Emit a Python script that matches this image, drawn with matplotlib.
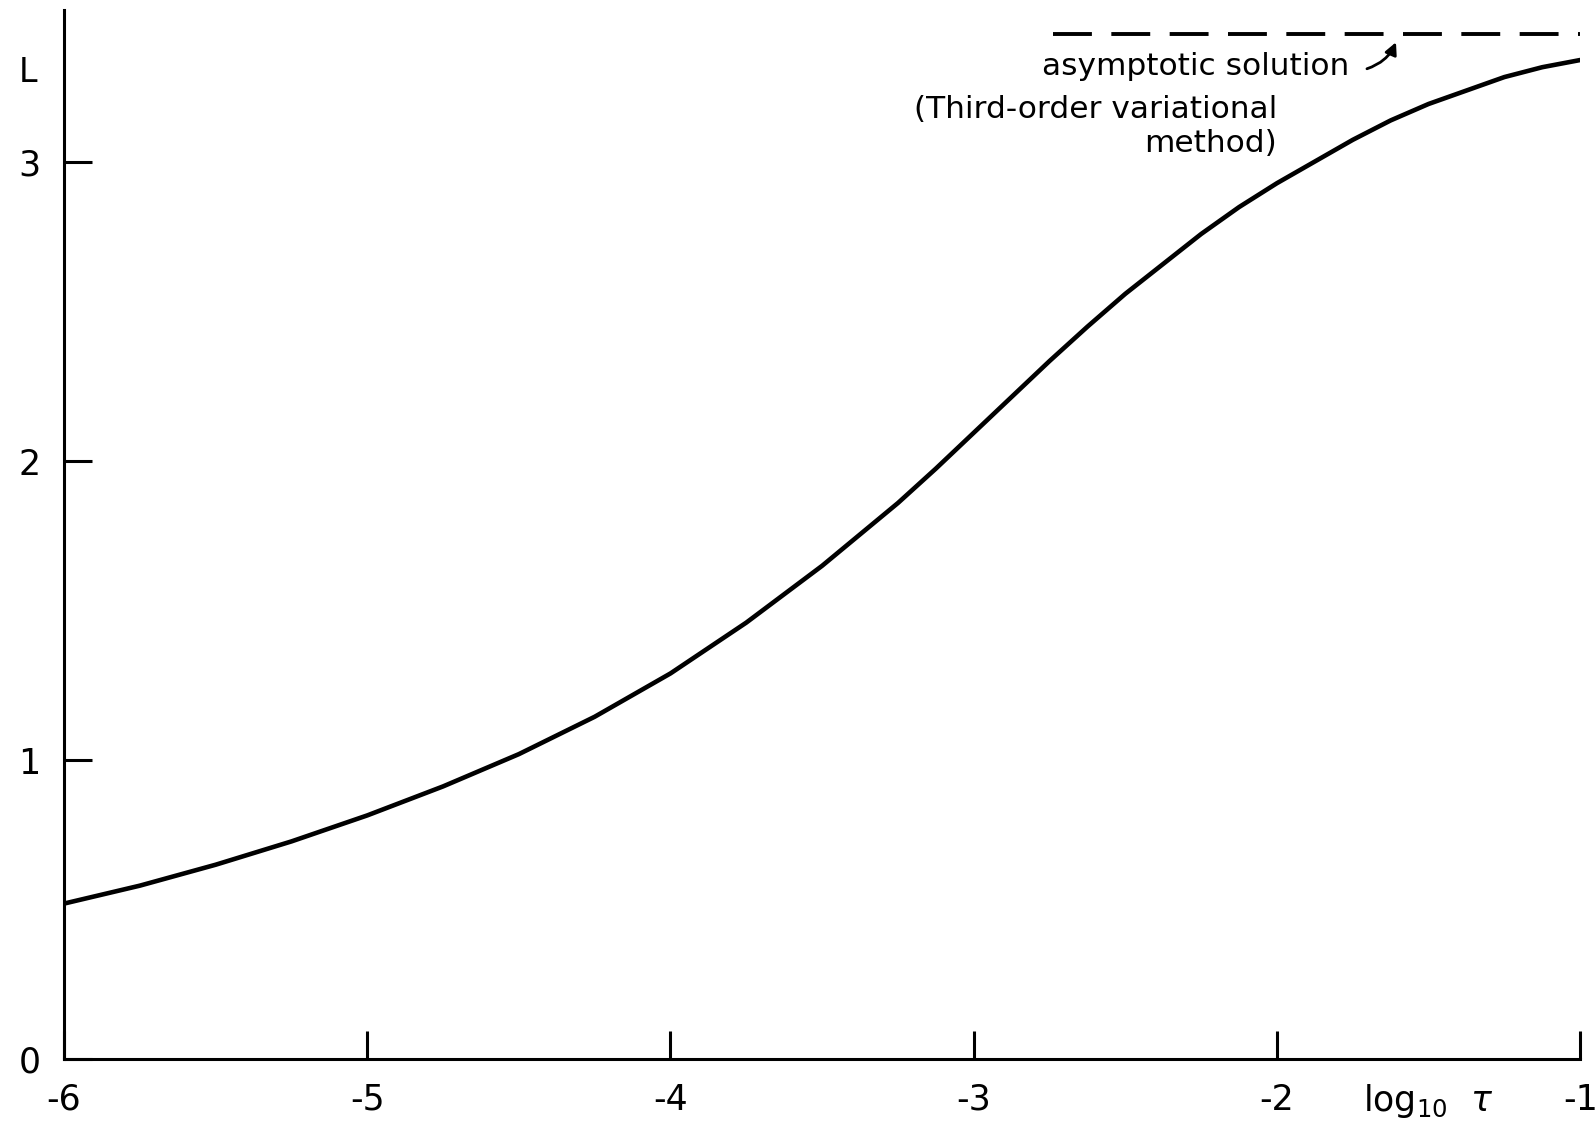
import numpy as np
import matplotlib
import matplotlib.pyplot as plt

# values
log_tau = [-6.0, -5.75, -5.5, -5.25, -5.0, -4.75, -4.5, -4.25, -4.0, -3.75,
           -3.5, -3.25, -3.125, -3.0, -2.75, -2.625, -2.5, -2.25, -2.125, -2.0,
           -1.75, -1.625, -1.5, -1.25, -1.125, -1.0]
L_vals = [0.52, 0.58, 0.65, 0.728, 0.815, 0.912, 1.02, 1.145, 1.29, 1.46,
          1.65, 1.86, 1.975, 2.095, 2.335, 2.45, 2.56, 2.76, 2.85, 2.93,
          3.075, 3.14, 3.195, 3.285, 3.318, 3.342]

asym_L = 3.43
asym_x = [-2.74, -1.0]

xticks = [-6, -5, -4, -3, -2, -1]
xticklabels = ["-6", "-5", "-4", "-3", "-2", "-1"]
yticks = [0, 1, 2, 3]
yticklabels = ["0", "1", "2", "3"]

plt.rcParams['font.family'] = ['DejaVu Sans']

fig = plt.figure(figsize=(15.96, 11.27), dpi=100)
ax = fig.add_axes([0.0401, 0.0603, 0.950, 0.931])

ax.plot(log_tau, L_vals, color='black', lw=3.3,
        solid_capstyle='round', solid_joinstyle='round')
ax.plot(asym_x, [asym_L, asym_L], color='black', lw=2.8, dashes=(10, 5))

ax.set_xlim(-6, -1)
ax.set_ylim(0, 3.51)

ax.spines['top'].set_visible(False)
ax.spines['right'].set_visible(False)
ax.spines['left'].set_linewidth(2.2)
ax.spines['bottom'].set_linewidth(2.2)

ax.set_xticks(xticks, labels=xticklabels)
ax.set_yticks(yticks, labels=yticklabels)
ax.tick_params(axis='x', direction='in', length=20, width=2.2, pad=17, labelsize=25)
ax.tick_params(axis='y', direction='in', length=20, width=2.2, pad=17, labelsize=25)

# annotation
ax.text(-1.762, 3.32, "asymptotic solution", ha='right', va='center', fontsize=22.5)
ax.text(-2.0, 3.12, "(Third-order variational\nmethod)", ha='right', va='center',
        fontsize=22.5, multialignment='right', linespacing=1.2)
ax.annotate("", xy=(-1.604, 3.41), xytext=(-1.712, 3.31),
            arrowprops=dict(arrowstyle='-|>', color='black', lw=2.0,
                            connectionstyle='arc3,rad=0.25', mutation_scale=18))

ax.text(-6.118, 3.30, "L", ha='center', va='center', fontsize=24, clip_on=False)
ax.text(-1.50, -0.14, r"log$_{10}$  $\tau$", ha='center', va='center',
        fontsize=25, clip_on=False)

plt.savefig("out.png", dpi=100)
